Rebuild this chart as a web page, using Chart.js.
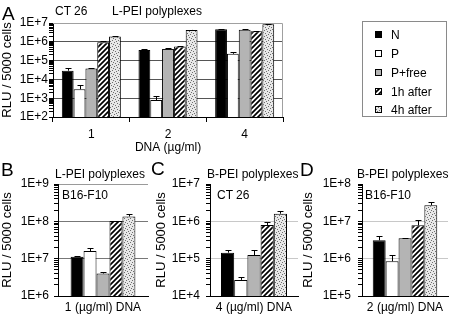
<!DOCTYPE html>
<html>
<head>
<meta charset="utf-8">
<script src="https://cdn.jsdelivr.net/npm/chart.js@4.4.1/dist/chart.umd.min.js"></script>
<style>
  body { margin: 0; background: #fff; }
  #wrap { position: relative; width: 451px; height: 324px; overflow: hidden;
          font-family: "Liberation Sans", Arial, sans-serif; color: #000; background: #fff; }
  #wrap canvas { position: absolute; }
  .t { position: absolute; font-size: 12px; line-height: 12px; white-space: nowrap; }
  .big { position: absolute; font-size: 19px; line-height: 19px; }
  #legend { position: absolute; left: 362px; top: 21px; width: 85px; height: 96px;
            border: 1px solid #8a8a8a; box-sizing: border-box; background: #fff; }
  #legend .row { position: absolute; left: 12px; height: 12px; font-size: 12px; line-height: 12px; white-space: nowrap; }
  #legend .row canvas { position: absolute; left: 0; top: 2px; }
  #legend .row span { position: absolute; left: 16px; top: 0; }
</style>
</head>
<body>
<div id="wrap">
  <canvas id="chartA" width="290" height="160" style="left:0;top:0"></canvas>
  <canvas id="chartB" width="150" height="164" style="left:0;top:160px"></canvas>
  <canvas id="chartC" width="150" height="164" style="left:150px;top:160px"></canvas>
  <canvas id="chartD" width="151" height="164" style="left:300px;top:160px"></canvas>

  <div class="big" style="left:2px;top:4px">A</div>
  <div class="t" style="left:55px;top:5px">CT 26</div>
  <div class="t" style="left:112px;top:5px">L-PEI polyplexes</div>

  <div class="big" style="left:1px;top:160px">B</div>
  <div class="t" style="left:55px;top:168px">L-PEI polyplexes</div>
  <div class="t" style="left:62px;top:189px">B16-F10</div>

  <div class="big" style="left:151px;top:159px">C</div>
  <div class="t" style="left:207px;top:168px">B-PEI polyplexes</div>
  <div class="t" style="left:217px;top:189px">CT 26</div>

  <div class="big" style="left:300px;top:160px">D</div>
  <div class="t" style="left:357px;top:168px">B-PEI polyplexes</div>
  <div class="t" style="left:365px;top:189px">B16-F10</div>

  <div id="legend"></div>
</div>
<script>
// series
const seriesNames = ['N', 'P', 'P+free', '1h after', '4h after'];

// panel A: CT 26, L-PEI, three DNA doses
const dosesA = ['1', '2', '4'];
const nA = [2.9e4, 3.7e5, 4.7e6];
const pA = [3.0e3, 8.0e2, 2.3e5];
const pfA = [3.8e4, 4.2e5, 4.4e6];
const h1A = [9.5e5, 5.6e5, 3.6e6];
const h4A = [1.9e6, 4.3e6, 8.5e6];
const nAErr = [1.3e4, 5e4, 2e5];
const pAErr = [1.8e3, 5e2, 5e4];
const pfAErr = [3e3, 5e4, 3e5];
const h1AErr = [1e5, 4e4, 2e5];
const h4AErr = [1.5e5, 2e5, 5e5];

// panel B: B16-F10, L-PEI, 1 ug/ml
const labelB = ['1 (µg/ml) DNA'];
const valsB = [1.13e7, 1.6e7, 4.0e6, 1.02e8, 1.35e8];
const errsB = [4e5, 3e6, 3e5, 3e6, 2.5e7];

// panel C: CT 26, B-PEI, 4 ug/ml
const labelC = ['4 (µg/ml) DNA'];
const valsC = [1.45e5, 2.7e4, 1.25e5, 8.0e5, 1.6e6];
const errsC = [3e4, 5e3, 5e4, 1.8e5, 3e5];

// panel D: B16-F10, B-PEI, 2 ug/ml
const labelD = ['2 (µg/ml) DNA'];
const valsD = [3.1e6, 8.5e5, 3.5e6, 7.8e6, 2.7e7];
const errsD = [9e5, 4e5, 1.5e5, 3e6, 5e6];

Chart.defaults.font.family = '"Liberation Sans", Arial, sans-serif';
Chart.defaults.font.size = 12;
Chart.defaults.color = '#000';

function makeHatch() {
  const c = document.createElement('canvas');
  c.width = 5; c.height = 5;
  const g = c.getContext('2d');
  g.fillStyle = '#fff';
  g.fillRect(0, 0, 5, 5);
  g.strokeStyle = '#000';
  g.lineWidth = 1.7;
  g.beginPath();
  g.moveTo(-1, 6); g.lineTo(6, -1);
  g.moveTo(-1, 1); g.lineTo(1, -1);
  g.moveTo(4, 6); g.lineTo(6, 4);
  g.stroke();
  return g.createPattern(c, 'repeat');
}

function makeDots() {
  const c = document.createElement('canvas');
  c.width = 6; c.height = 6;
  const g = c.getContext('2d');
  g.fillStyle = '#e8e8e8';
  g.fillRect(0, 0, 6, 6);
  g.fillStyle = '#6e6e6e';
  [[0, 0], [3, 1], [1, 3], [4, 4], [2, 5], [5, 2]].forEach(([x, y]) => g.fillRect(x, y, 1, 1));
  return g.createPattern(c, 'repeat');
}

const fills = ['#000000', '#ffffff', '#b4b4b4', makeHatch(), makeDots()];

function isDecade(v) {
  const e = Math.log10(v);
  return Math.abs(e - Math.round(e)) < 1e-9;
}

function logTicks(lo, hi) {
  const t = [];
  for (let e = lo; e <= hi; e++) {
    for (let m = 1; m <= 9; m++) {
      if (e === hi && m > 1) break;
      t.push({ value: m * Math.pow(10, e) });
    }
  }
  return t;
}

// error bars (upper only), drawn with the y scale
const errorBars = {
  id: 'errorBars',
  afterDatasetsDraw(chart) {
    const ctx = chart.ctx;
    const y = chart.scales.y;
    chart.data.datasets.forEach((ds, i) => {
      const meta = chart.getDatasetMeta(i);
      meta.data.forEach((bar, j) => {
        const e = ds.errors ? ds.errors[j] : 0;
        if (!e) return;
        const top = Math.round(y.getPixelForValue(ds.data[j] + e)) + 0.5;
        const x = Math.round(bar.x) + 0.5;
        ctx.save();
        ctx.strokeStyle = '#000';
        ctx.lineWidth = 1;
        ctx.beginPath();
        ctx.moveTo(x, bar.y);
        ctx.lineTo(x, top);
        ctx.moveTo(x - 3, top);
        ctx.lineTo(x + 3, top);
        ctx.stroke();
        ctx.restore();
      });
    });
  }
};

// light frame on top/right of the plot area
const frame = {
  id: 'frame',
  beforeDatasetsDraw(chart, args, opts) {
    if (!opts.color) return;
    const a = chart.chartArea;
    const ctx = chart.ctx;
    ctx.save();
    ctx.strokeStyle = opts.color;
    ctx.lineWidth = 1;
    ctx.beginPath();
    ctx.moveTo(a.left, Math.round(a.top) + 0.5);
    ctx.lineTo(Math.round(a.right) - 0.5, Math.round(a.top) + 0.5);
    ctx.lineTo(Math.round(a.right) - 0.5, a.bottom);
    ctx.stroke();
    ctx.restore();
  }
};

function makeChart(id, p) {
  return new Chart(document.getElementById(id), {
    type: 'bar',
    data: { labels: p.labels, datasets: p.datasets },
    options: {
      responsive: false,
      animation: false,
      devicePixelRatio: 1,
      layout: { padding: p.padding },
      plugins: {
        legend: { display: false },
        tooltip: { enabled: false },
        frame: { color: p.frameColor }
      },
      scales: {
        x: {
          type: 'category',
          border: { color: '#000', width: 1 },
          grid: p.xGrid,
          ticks: { padding: p.xTickPad, maxRotation: 0, autoSkip: false, font: { size: 12 } },
          title: p.xTitle ? { display: true, text: p.xTitle, font: { size: 12 }, padding: { top: 0, bottom: 5 } } : { display: false },
          afterFit: s => { s.height = p.xHeight; }
        },
        y: {
          type: 'logarithmic',
          min: Math.pow(10, p.lo),
          max: Math.pow(10, p.hi),
          border: { color: '#000', width: 1 },
          afterBuildTicks: s => { s.ticks = logTicks(p.lo, p.hi); },
          afterFit: s => { s.width = p.yWidth; },
          grid: {
            drawTicks: true,
            tickLength: 4,
            tickColor: '#000',
            color: c => {
              const v = c.tick ? c.tick.value : 0;
              if (!v || !isDecade(v)) return 'rgba(0,0,0,0)';
              const e = Math.round(Math.log10(v));
              if (e === p.lo) return 'rgba(0,0,0,0)';
              if (e === p.hi) return p.topGrid;
              return p.gridColor;
            }
          },
          ticks: {
            autoSkip: false,
            padding: p.yTickPad,
            font: { size: 12 },
            callback: v => isDecade(v) ? '1E+' + Math.round(Math.log10(v)) : ''
          },
          title: {
            display: true,
            text: 'RLU / 5000 cells',
            font: { size: 13 },
            padding: { top: 0, bottom: 0 }
          }
        }
      }
    },
    plugins: [frame, errorBars]
  });
}

function barSet(name, i, data, errors, catPct) {
  return {
    label: name,
    data: data,
    errors: errors,
    backgroundColor: fills[i],
    borderColor: '#000',
    borderWidth: 1,
    categoryPercentage: catPct,
    barPercentage: 1
  };
}

const valsA = [nA, pA, pfA, h1A, h4A];
const errsA = [nAErr, pAErr, pfAErr, h1AErr, h4AErr];

makeChart('chartA', {
  labels: dosesA,
  datasets: seriesNames.map((n, i) => barSet(n, i, valsA[i], errsA[i], 0.77)),
  lo: 2, hi: 7,
  padding: { left: 0, top: 23, right: 7, bottom: 0 },
  yWidth: 53, xHeight: 43,
  yTickPad: 1, xTickPad: 5,
  xGrid: { offset: true, drawOnChartArea: false, drawTicks: true, tickLength: 5, color: '#000', tickColor: '#000' },
  xTitle: 'DNA (µg/ml)',
  gridColor: '#555', topGrid: 'rgba(0,0,0,0)', frameColor: '#a0a0a0'
});

const single = (labels, vals, errs, lo, hi, padding, yWidth, yTickPad, gridColor, topGrid, pct) => ({
  labels: labels,
  datasets: seriesNames.map((n, i) => barSet(n, i, [vals[i]], [errs[i]], pct)),
  lo: lo, hi: hi,
  padding: padding,
  yWidth: yWidth, xHeight: 28,
  yTickPad: yTickPad, xTickPad: 4,
  xGrid: { display: false, drawTicks: false },
  xTitle: null,
  gridColor: gridColor, topGrid: topGrid, frameColor: null
});

makeChart('chartB', single(labelB, valsB, errsB, 6, 9, { left: 0, top: 24, right: 2, bottom: 0 }, 58, 5, '#777', '#9a9a9a', 0.72));
makeChart('chartC', single(labelC, valsC, errsC, 4, 7, { left: 4, top: 24, right: 2, bottom: 0 }, 56, 6, '#c8c8c8', 'rgba(0,0,0,0)', 0.75));
makeChart('chartD', single(labelD, valsD, errsD, 5, 8, { left: 1, top: 24, right: 3, bottom: 0 }, 61, 7, '#c8c8c8', 'rgba(0,0,0,0)', 0.75));

// legend box
const legend = document.getElementById('legend');
const rowTops = [7, 26, 45, 64, 82];
seriesNames.forEach((name, i) => {
  const row = document.createElement('div');
  row.className = 'row';
  row.style.top = rowTops[i] + 'px';
  const sw = document.createElement('canvas');
  sw.width = 7; sw.height = 7;
  const g = sw.getContext('2d');
  g.fillStyle = fills[i];
  g.fillRect(0, 0, 7, 7);
  g.strokeStyle = '#000';
  g.lineWidth = 1;
  g.strokeRect(0.5, 0.5, 6, 6);
  const txt = document.createElement('span');
  txt.textContent = name;
  row.appendChild(sw);
  row.appendChild(txt);
  legend.appendChild(row);
});
</script>
</body>
</html>
